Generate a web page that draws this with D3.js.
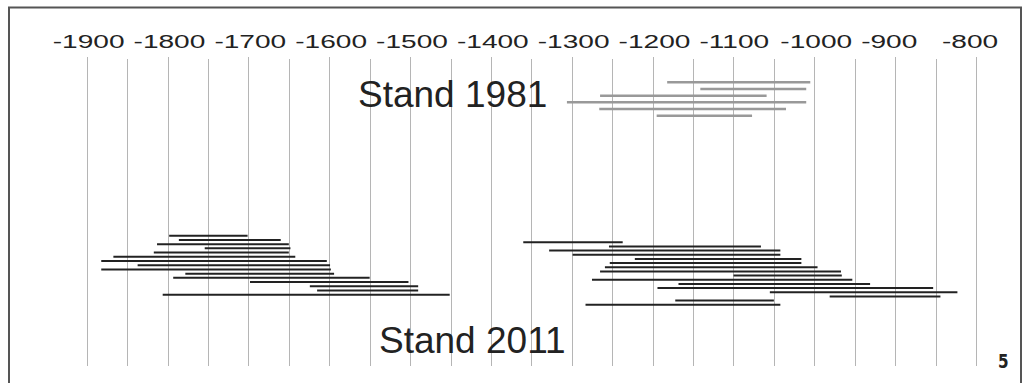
<!DOCTYPE html>
<html>
<head>
<meta charset="utf-8">
<script src="https://cdn.jsdelivr.net/npm/d3@7"></script>
<style>
  body { margin: 0; background: #fff; }
  svg { display: block; font-family: "Liberation Sans", Arial, sans-serif; }
</style>
</head>
<body>
<div id="chart"></div>
<script>
// Datierungsspannen (Jahre v. Chr. als negative Zahlen)
const tickYears = [-1900, -1800, -1700, -1600, -1500, -1400, -1300, -1200, -1100, -1000, -900, -800];
const gridYears = d3.range(-1900, -799, 50);

// Stand 1981 (grau)
const ranges1981 = [
    [-1182, -1005],
    [-1141, -1010],
    [-1265, -1059],
    [-1306, -1010],
    [-1266, -1035],
    [-1195, -1077]
];

// Stand 2011 (schwarz), linke Gruppe
const ranges2011a = [
    [-1798, -1701],
    [-1786, -1660],
    [-1813, -1650],
    [-1754, -1648],
    [-1817, -1650],
    [-1867, -1642],
    [-1882, -1603],
    [-1837, -1599],
    [-1882, -1598],
    [-1778, -1594],
    [-1793, -1550],
    [-1698, -1502],
    [-1624, -1490],
    [-1615, -1490],
    [-1806, -1451]
];

// Stand 2011 (schwarz), rechte Gruppe
const ranges2011b = [
    [-1360, -1237],
    [-1254, -1066],
    [-1328, -1042],
    [-1299, -1042],
    [-1222, -1016],
    [-1253, -1016],
    [-1259, -996],
    [-1265, -967],
    [-1100, -966],
    [-1275, -953],
    [-1168, -931],
    [-1194, -853],
    [-1055, -823],
    [-981, -844],
    [-1172, -1050],
    [-1283, -1042]
];

const width = 1031, height = 383;

const svg = d3.select("#chart").append("svg")
    .attr("width", width)
    .attr("height", height);

const x = d3.scaleLinear().domain([-1900, -800]).range([86.7, 976]);

// Rahmen
svg.append("rect")
    .attr("x", 9).attr("y", 7.5)
    .attr("width", 1012).attr("height", 400)
    .attr("fill", "none")
    .attr("stroke", "#555")
    .attr("stroke-width", 2);

// Gitterlinien
svg.append("g").selectAll("line")
    .data(gridYears)
    .join("line")
    .attr("x1", d => Math.round(x(d)) + 0.5)
    .attr("x2", d => Math.round(x(d)) + 0.5)
    .attr("y1", d => d % 100 === 0 ? 57 : 59)
    .attr("y2", 366)
    .attr("stroke", "#b5b5b5")
    .attr("stroke-width", 1);

// Achsenbeschriftung (horizontal gestreckt wie im Original)
svg.append("g").selectAll("text")
    .data(tickYears)
    .join("text")
    .attr("transform", d => `translate(${x(d) - 34},48) scale(1.56,1)`)
    .attr("font-size", 18)
    .attr("fill", "#222")
    .text(d => d);

function drawRanges(data, y0, y1, color, sw) {
    const y = d3.scaleLinear().domain([0, data.length - 1]).range([y0, y1]);
    svg.append("g").selectAll("line")
        .data(data)
        .join("line")
        .attr("x1", d => x(d[0]))
        .attr("x2", d => x(d[1]))
        .attr("y1", (d, i) => y(i))
        .attr("y2", (d, i) => y(i))
        .attr("stroke", color)
        .attr("stroke-width", sw);
}

drawRanges(ranges1981, 82.3, 115.7, "#999", 2.5);
drawRanges(ranges2011a, 235.7, 294.7, "#222", 2);
drawRanges(ranges2011b, 242.3, 304.7, "#222", 2);

// Beschriftungen
svg.append("text")
    .attr("x", 358).attr("y", 107)
    .attr("font-size", 37)
    .attr("fill", "#222")
    .text("Stand 1981");

svg.append("text")
    .attr("x", 379).attr("y", 353)
    .attr("font-size", 37)
    .attr("fill", "#222")
    .text("Stand 2011");

svg.append("text")
    .attr("transform", "translate(998,368) scale(0.8,1)")
    .attr("font-family", "DejaVu Sans, sans-serif")
    .attr("font-weight", "bold")
    .attr("font-size", 19)
    .attr("fill", "#222")
    .text("5");
</script>
</body>
</html>
